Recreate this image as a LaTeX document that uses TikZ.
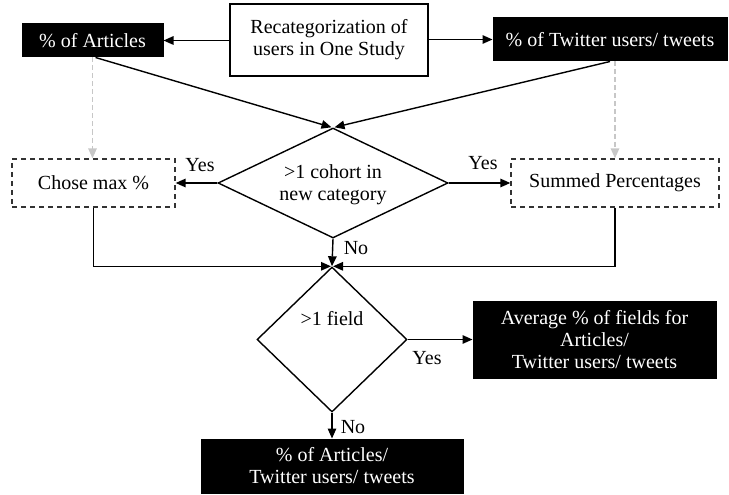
\documentclass[tikz,border=0pt]{standalone}
\usepackage{fontspec}
\setmainfont{Liberation Serif}
\usetikzlibrary{arrows.meta,shapes.geometric}
\begin{document}
\begin{tikzpicture}[x=1pt,y=-1pt,
  every node/.style={font=\fontsize{20}{22}\selectfont, inner sep=0pt, align=center},
  conn/.style={line width=1.4pt, -{Triangle[length=10pt,width=8.5pt]}},
  grayconn/.style={line width=1.4pt, draw=black!22, dash pattern=on 5pt off 3pt, -{Triangle[length=10pt,width=8.5pt]}},
  blackbox/.style={rectangle, fill=black, draw=black, line width=1pt, text=white},
  whitebox/.style={rectangle, draw=black, line width=1.5pt, fill=white},
  dashbox/.style={rectangle, draw=black!80, line width=1.3pt, dash pattern=on 5pt off 4pt},
  dia/.style={diamond, draw=black, line width=1.4pt, inner sep=0pt},
  lbl/.style={font=\fontsize{20}{22}\selectfont}
]
\useasboundingbox (0,0) rectangle (729,495);

\node[blackbox, minimum width=141pt, minimum height=33pt] (art) at (92.5,40.5) {\% of Articles};
\node[whitebox, minimum width=198pt, minimum height=72pt] (recat) at (329,40) {Recategorization of\\users in One Study};
\node[blackbox, minimum width=234pt, minimum height=43pt] (tw) at (610,39.5) {\% of Twitter users/ tweets};

\node[dia, minimum width=230pt, minimum height=110pt] (d1) at (333,183) {};
\node (d1t) at (333,185) {>1 cohort in\\new category};

\node[dashbox, minimum width=163pt, minimum height=48pt] (chose) at (93.5,183) {Chose max \%};
\node[dashbox, minimum width=208pt, minimum height=48pt] (summ) at (615,183) {Summed Percentages};

\node[dia, minimum width=150pt, minimum height=145pt] (d2) at (332,339.5) {};
\node (d2t) at (332,319) {>1 field};

\node[blackbox, minimum width=243pt, minimum height=77pt] (avg) at (594.5,339.5) {Average \% of fields for\\Articles/\\Twitter users/ tweets};
\node[blackbox, minimum width=262pt, minimum height=54pt] (fin) at (332,466) {\% of Articles/\\Twitter users/ tweets};

\node[lbl] (y1) at (200,165) {Yes};
\node[lbl] (y2) at (483,163) {Yes};
\node[lbl] (y3) at (427,358) {Yes};
\node[lbl] (n1) at (356,248) {No};
\node[lbl] (n2) at (353,427) {No};

% connectors
\draw[conn] (recat.west |- art.east) -- (art.east);
\draw[conn] (recat.east |- tw.west) -- (tw.west);
\draw[conn] ([xshift=3pt]art.south) -- ([xshift=-1.5pt]d1.north);
\draw[conn] (tw.south) -- ([xshift=1.5pt]d1.north);
\draw[grayconn] (art.south) -- (art.south |- chose.north);
\draw[grayconn] (tw.south -| summ.north) -- (summ.north);
\draw[conn] (d1.west) -- (chose.east);
\draw[conn] (d1.east) -- (summ.west);
\draw[conn] (d1.south) -- (d2.north);
\draw[conn] (chose.south) -- (chose.south |- d2.north) -- ([xshift=-1pt]d2.north);
\draw[conn] (summ.south) -- (summ.south |- d2.north) -- ([xshift=1pt]d2.north);
\draw[conn] (d2.east) -- (avg.west |- d2.east);
\draw[conn] (d2.south) -- (fin.north);
\end{tikzpicture}
\end{document}
